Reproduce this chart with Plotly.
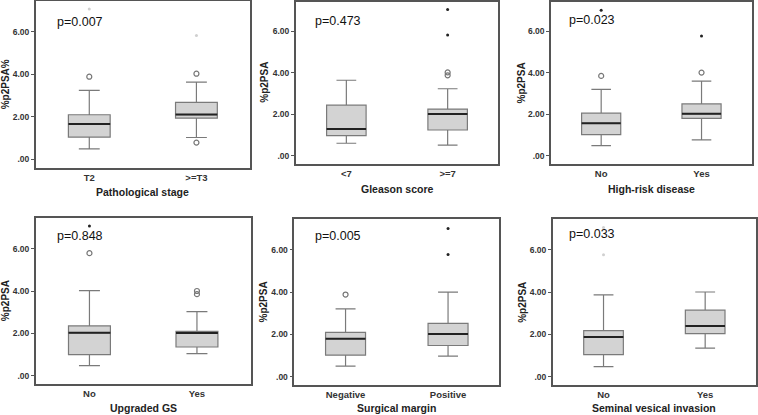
import plotly.graph_objects as go

# ---------------- data ----------------
x_titles = ["Pathological stage", "Gleason score", "High-risk disease",
            "Upgraded GS", "Surgical margin", "Seminal vesical invasion"]
y_titles = ["%p2PSA%", "%p2PSA", "%p2PSA", "%p2PSA", "%p2PSA", "%p2PSA"]
groups = [["T2", ">=T3"], ["<7", ">=7"], ["No", "Yes"],
          ["No", "Yes"], ["Negative", "Positive"], ["No", "Yes"]]
p_values = ["p=0.007", "p=0.473", "p=0.023", "p=0.848", "p=0.005", "p=0.033"]

lower = [[0.49, 1.02], [0.60, 0.51], [0.49, 0.76], [0.47, 1.04], [0.49, 0.97], [0.47, 1.34]]
q1 = [[1.04, 1.93], [0.97, 1.24], [1.02, 1.80], [0.99, 1.35], [1.01, 1.47], [1.04, 2.03]]
median = [[1.65, 2.10], [1.29, 2.01], [1.56, 2.02], [2.02, 2.01], [1.79, 2.01], [1.87, 2.39]]
q3 = [[2.09, 2.67], [2.44, 2.25], [2.05, 2.50], [2.35, 2.09], [2.09, 2.52], [2.17, 3.14]]
upper = [[3.24, 3.62], [3.64, 3.23], [3.20, 3.60], [4.02, 3.02], [3.20, 3.99], [3.86, 4.00]]

# mild outliers (circles)
outliers = [[[3.88], [4.02, 0.78]], [[], [3.88, 4.02]], [[3.85], [4.01]],
            [[5.79], [3.85, 4.00]], [[3.88], []], [[], []]]
# extreme values (asterisks)
extremes = [[[], []], [[], [7.05, 5.82]], [[7.02], [5.78]],
            [[7.07], []], [[], [7.01, 5.78]], [[], []]]
# faint extreme marks
faint = [[[7.06], [5.82]], [[], []], [[], []],
         [[], []], [[], []], [[7.05, 5.76], []]]

y_tickvals = [0, 2, 4, 6]
y_ticktext = [".00", "2.00", "4.00", "6.00"]

# ---------------- layout geometry ----------------
W, H = 758, 415
x_dom_px = [(35.7, 250.0), (295.7, 498.3), (551.0, 751.7),
            (35.7, 250.7), (294.3, 499.3), (552.7, 756.0)]
y_dom_px = [(1.0, 167.7), (1.5, 164.0), (1.5, 164.0),
            (218.3, 384.0), (219.3, 385.0), (219.3, 385.0)]
ytitle_x_px = [5, 265, 521.7, 5, 263.3, 521.7]
xtitle_y_px = [192, 188.7, 188.7, 407.7, 408, 408]
p_pos_px = [(55, 21.7), (313.3, 20.7), (566.7, 20.0),
            (55, 235.7), (313.3, 235.7), (566.7, 234.3)]

FONT = "Liberation Sans, Arial, sans-serif"
BOXW = 0.39

fig = go.Figure()
annotations = []
layout = {}

for k in range(6):
    ax = "" if k == 0 else str(k + 1)
    xref, yref = "x" + ax, "y" + ax
    for i in range(2):
        fig.add_trace(go.Box(
            x=[i], q1=[q1[k][i]], median=[median[k][i]], q3=[q3[k][i]],
            lowerfence=[lower[k][i]], upperfence=[upper[k][i]],
            width=BOXW, whiskerwidth=0.5, boxpoints=False,
            fillcolor="#d3d3d3", line=dict(color="#7a7a7a", width=1.2),
            xaxis=xref, yaxis=yref, showlegend=False, hoverinfo="skip"))
        fig.add_trace(go.Scatter(
            x=[i - BOXW / 2, i + BOXW / 2], y=[median[k][i], median[k][i]],
            mode="lines", line=dict(color="#222222", width=2),
            xaxis=xref, yaxis=yref, showlegend=False, hoverinfo="skip"))
        if outliers[k][i]:
            fig.add_trace(go.Scatter(
                x=[i] * len(outliers[k][i]), y=outliers[k][i], mode="markers",
                marker=dict(symbol="circle-open", size=5,
                            line=dict(color="#777777", width=1.2), color="#777777"),
                xaxis=xref, yaxis=yref, showlegend=False, hoverinfo="skip"))
        if extremes[k][i]:
            fig.add_trace(go.Scatter(
                x=[i] * len(extremes[k][i]), y=extremes[k][i], mode="markers",
                marker=dict(symbol="circle", size=3, color="#222222"),
                xaxis=xref, yaxis=yref, showlegend=False, hoverinfo="skip"))
        if faint[k][i]:
            fig.add_trace(go.Scatter(
                x=[i] * len(faint[k][i]), y=faint[k][i], mode="markers",
                marker=dict(symbol="circle", size=3, color="#d0d0d0"),
                xaxis=xref, yaxis=yref, showlegend=False, hoverinfo="skip"))

    x0, x1 = x_dom_px[k]
    y0, y1 = y_dom_px[k]
    layout["xaxis" + ax] = dict(
        domain=[x0 / W, x1 / W], range=[-0.5, 1.5],
        tickmode="array", tickvals=[0, 1],
        ticktext=["<b>%s</b>" % g for g in groups[k]],
        showgrid=False, zeroline=False, showline=True, mirror=True,
        linecolor="#555555", linewidth=1.5, ticks="",
        tickfont=dict(family=FONT, size=9.5, color="#333333"),
        anchor="y" + ax, fixedrange=True)
    layout["yaxis" + ax] = dict(
        domain=[1 - y1 / H, 1 - y0 / H], range=[-0.4, 7.44],
        tickmode="array", tickvals=y_tickvals,
        ticktext=["<b>%s</b>" % t for t in y_ticktext],
        showgrid=False, zeroline=False, showline=True, mirror=True,
        linecolor="#555555", linewidth=1.5, ticks="outside", ticklen=3,
        tickcolor="#555555",
        tickfont=dict(family=FONT, size=8.5, color="#333333"),
        anchor="x" + ax, fixedrange=True)

    annotations.append(dict(
        text="<b>%s</b>" % x_titles[k], xref="paper", yref="paper",
        x=(x0 + x1) / 2 / W, y=1 - xtitle_y_px[k] / H,
        xanchor="center", yanchor="middle", showarrow=False,
        font=dict(family=FONT, size=10.5, color="#222222")))
    annotations.append(dict(
        text="<b>%s</b>" % y_titles[k], xref="paper", yref="paper",
        x=ytitle_x_px[k] / W, y=1 - (y0 + y1) / 2 / H, textangle=-90,
        xanchor="center", yanchor="middle", showarrow=False,
        font=dict(family=FONT, size=10, color="#222222")))
    px, py = p_pos_px[k]
    annotations.append(dict(
        text=p_values[k], xref="paper", yref="paper",
        x=px / W, y=1 - py / H, xanchor="left", yanchor="middle",
        showarrow=False, font=dict(family=FONT, size=12.5, color="#111111")))

fig.update_layout(
    width=W, height=H, margin=dict(l=0, r=0, t=0, b=0),
    paper_bgcolor="white", plot_bgcolor="white",
    annotations=annotations, **layout)

fig.write_html("out.html", config={"displayModeBar": False},
               post_script="document.body.style.margin='0';document.body.style.overflow='hidden';")
